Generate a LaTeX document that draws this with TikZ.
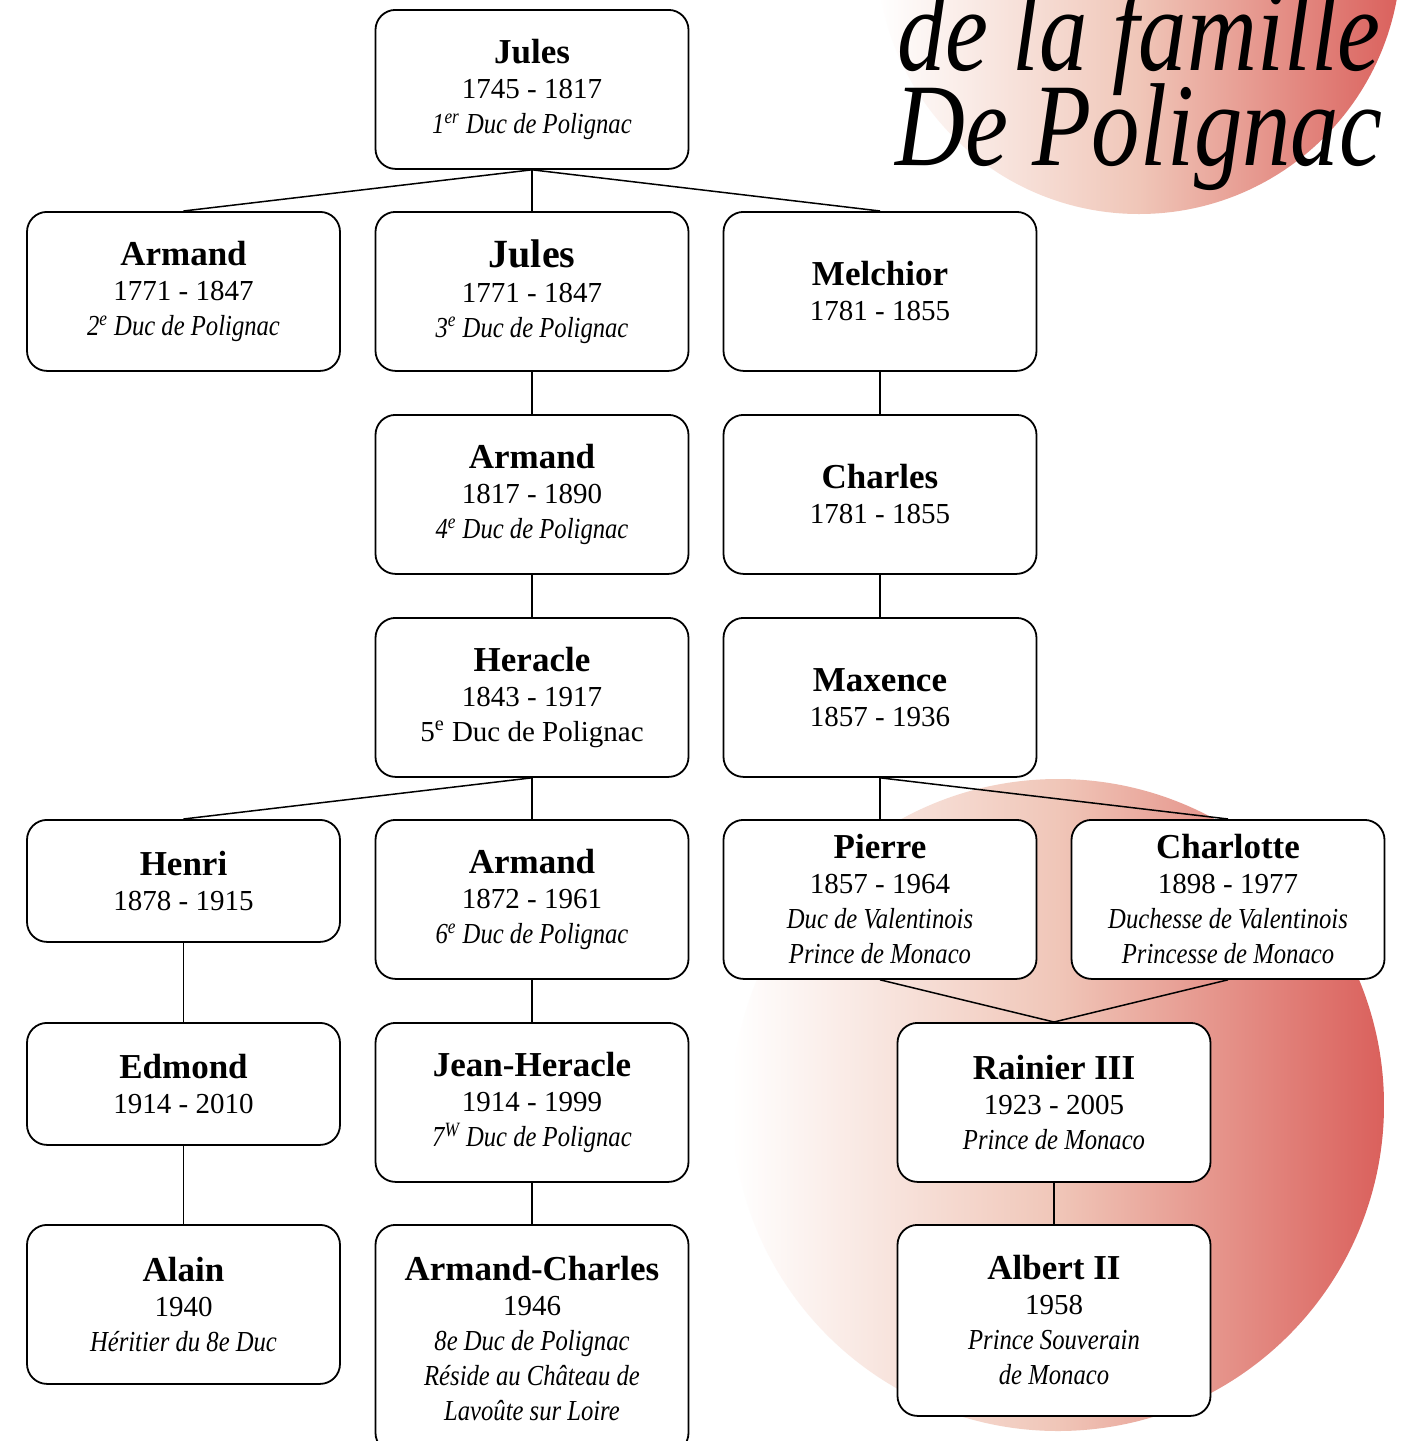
\documentclass[tikz,border=0pt]{standalone}
\usepackage{fontspec}
\setmainfont{Liberation Serif}[ItalicFeatures={FakeStretch=0.85}]
\newfontfamily\titlefont{Liberation Serif}[FakeStretch=0.82]
\usetikzlibrary{positioning}
\definecolor{rosepale}{RGB}{240,198,184}
\definecolor{rougepolignac}{RGB}{218,96,92}
\def\nom(#1){{\fontsize{17.5}{18}\selectfont\bfseries #1}}
\def\titre(#1){\textit{#1}}
\tikzstyle{personne} = [draw, line width=0.9pt, rounded corners=10pt, fill=white, minimum width=156.5pt, minimum height=79.5pt, align=center, anchor=north, inner sep=0pt, font=\fontsize{14.5}{17.5}\selectfont]
\tikzstyle{courte} = [minimum height=61pt]
\tikzstyle{lien} = [line width=0.75pt]
\tikzstyle{bulle} = [left color=white, right color=rougepolignac, middle color=rosepale]
\tikzstyle{grandtitre} = [anchor=base, inner sep=0pt, font=\titlefont\itshape\fontsize{59}{59}\selectfont]

\begin{document}
\begin{tikzpicture}[x=0.5pt,y=-0.5pt]
      \useasboundingbox (0,0) rectangle (1404,1441);
      \fill[white] (0,0) rectangle (1404,1441);
      % cercles
      \shade[bulle] (1139,-48) circle (131pt);
      \shade[bulle] (1058,1105) circle (163pt);
      % titre
      \node (titre1) [grandtitre] at (1139,70) {de la famille};
      \node (titre2) [grandtitre] at (1139,165) {De Polignac};
      % generation 1
      \node (jules1) [personne] at (532,9) {\nom(Jules)\\1745 - 1817\\\titre(1\textsuperscript{er} Duc de Polignac)};
      % generation 2
      \node (armand2) [personne] at (183.5,211) {\nom(Armand)\\1771 - 1847\\\titre(2\textsuperscript{e} Duc de Polignac)};
      \node (jules3) [personne] at (532,211) {{\fontsize{20}{20}\selectfont\bfseries Jules}\\1771 - 1847\\\titre(3\textsuperscript{e} Duc de Polignac)};
      \node (melchior) [personne] at (880,211) {\nom(Melchior)\\1781 - 1855};
      % generation 3
      \node (armand4) [personne] at (532,414) {\nom(Armand)\\1817 - 1890\\\titre(4\textsuperscript{e} Duc de Polignac)};
      \node (charles) [personne] at (880,414) {\nom(Charles)\\1781 - 1855};
      % generation 4
      \node (heracle) [personne] at (532,617) {\nom(Heracle)\\1843 - 1917\\5\textsuperscript{e} Duc de Polignac};
      \node (maxence) [personne] at (880,617) {\nom(Maxence)\\1857 - 1936};
      % generation 5
      \node (henri) [personne, courte] at (183.5,819) {\nom(Henri)\\1878 - 1915};
      \node (armand6) [personne] at (532,819) {\nom(Armand)\\1872 - 1961\\\titre(6\textsuperscript{e} Duc de Polignac)};
      \node (pierre) [personne] at (880,819) {\nom(Pierre)\\1857 - 1964\\\titre(Duc de Valentinois)\\\titre(Prince de Monaco)};
      \node (charlotte) [personne] at (1228,819) {\nom(Charlotte)\\1898 - 1977\\\titre(Duchesse de Valentinois)\\\titre(Princesse de Monaco)};
      % generation 6
      \node (edmond) [personne, courte] at (183.5,1022) {\nom(Edmond)\\1914 - 2010};
      \node (jeanheracle) [personne] at (532,1022) {\nom(Jean-Heracle)\\1914 - 1999\\\titre(7\textsuperscript{W} Duc de Polignac)};
      \node (rainier) [personne] at (1054,1022) {\nom(Rainier III)\\1923 - 2005\\\titre(Prince de Monaco)};
      % generation 7
      \node (alain) [personne] at (183.5,1224) {\nom(Alain)\\1940\\\titre(Héritier du 8e Duc)};
      \node (armandcharles) [personne, minimum height=114pt] at (532,1224) {\nom(Armand-Charles)\\1946\\\titre(8e Duc de Polignac)\\\titre(Réside au Château de)\\\titre(Lavoûte sur Loire)};
      \node (albert) [personne, minimum height=95.5pt] at (1054,1224) {\nom(Albert II)\\1958\\\titre(Prince Souverain)\\\titre(de Monaco)};
      % liens
      \draw[lien] (jules1.south)--(armand2.north);
      \draw[lien] (jules1.south)--(jules3.north);
      \draw[lien] (jules1.south)--(melchior.north);
      \draw[lien] (jules3.south)--(armand4.north);
      \draw[lien] (armand4.south)--(heracle.north);
      \draw[lien] (melchior.south)--(charles.north);
      \draw[lien] (charles.south)--(maxence.north);
      \draw[lien] (heracle.south)--(henri.north);
      \draw[lien] (heracle.south)--(armand6.north);
      \draw[lien] (maxence.south)--(pierre.north);
      \draw[lien] (maxence.south)--(charlotte.north);
      \draw[lien] (henri.south)--(edmond.north);
      \draw[lien] (edmond.south)--(alain.north);
      \draw[lien] (armand6.south)--(jeanheracle.north);
      \draw[lien] (jeanheracle.south)--(armandcharles.north);
      \draw[lien] (pierre.south)--(rainier.north);
      \draw[lien] (charlotte.south)--(rainier.north);
      \draw[lien] (rainier.south)--(albert.north);
\end{tikzpicture}
\end{document}
